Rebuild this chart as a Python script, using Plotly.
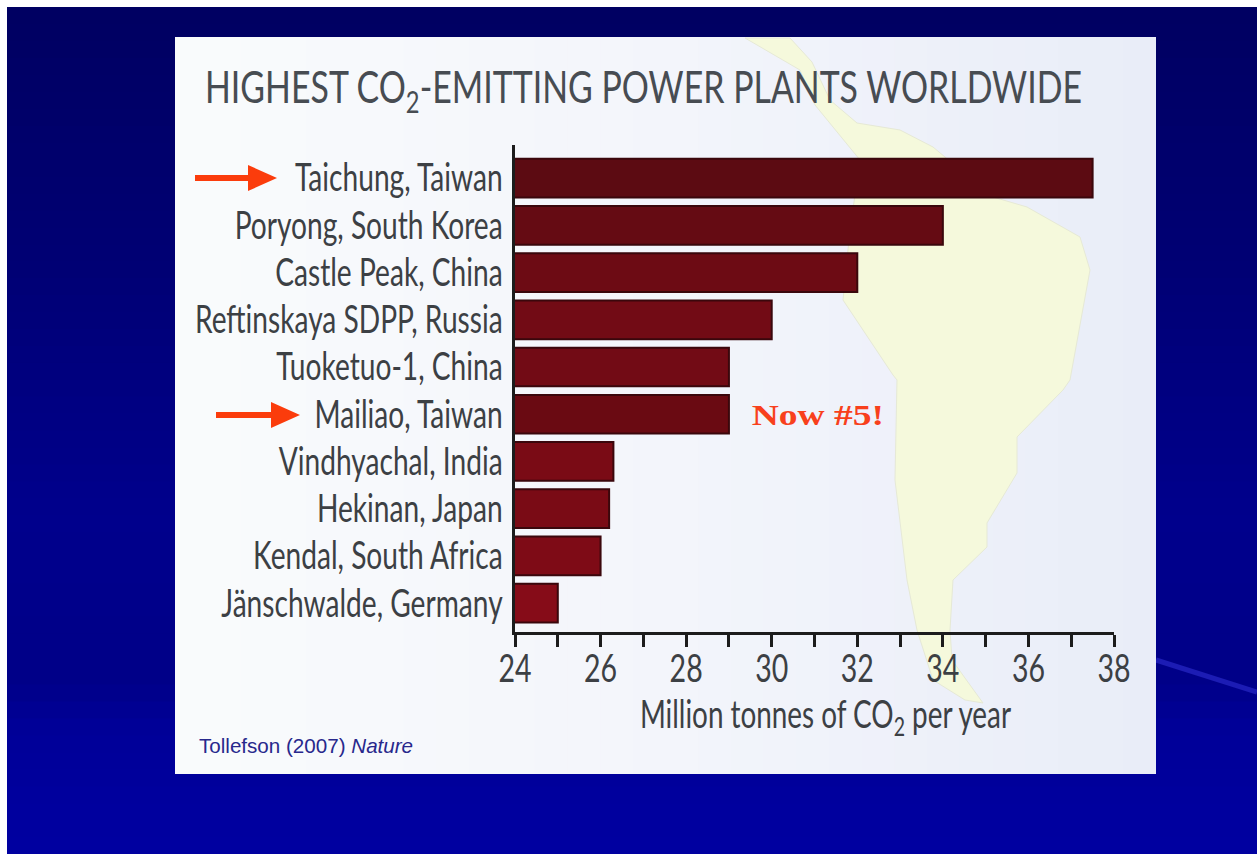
import plotly.graph_objects as go

plants = ["Taichung, Taiwan", "Poryong, South Korea", "Castle Peak, China",
          "Reftinskaya SDPP, Russia", "Tuoketuo-1, China", "Mailiao, Taiwan",
          "Vindhyachal, India", "Hekinan, Japan", "Kendal, South Africa",
          "Jänschwalde, Germany"]
emissions = [37.5, 34, 32, 30, 29, 29, 26.3, 26.2, 26, 25]
bar_colors = ["#5c0b12", "#650b13", "#6d0b14", "#720b15", "#720b15",
              "#6a0a12", "#7a0b15", "#7a0b15", "#7e0b16", "#860c18"]
x_ticks = [24, 26, 28, 30, 32, 34, 36, 38]

W, H = 1257, 854
def px(x): return x / W
def py(y): return 1 - y / H
def poly(points):
    return "M" + " L".join(f"{px(a):.5f},{py(b):.5f}" for a, b in points) + " Z"

shapes = []
def lerp(stops, t):
    for (t0, c0), (t1, c1) in zip(stops, stops[1:]):
        if t <= t1:
            f = (t - t0) / (t1 - t0)
            return tuple(round(a + (b - a) * f) for a, b in zip(c0, c1))
    return stops[-1][1]

# slide background: each band runs from its top edge to the bottom, so no seams
BG_L, BG_T = 7, 7
bg_stops = [(0, (0, 0, 0x62)), (0.3, (0, 0, 0x74)), (0.6, (0, 0, 0x8c)),
            (0.8, (0, 0, 0x88)), (0.86, (0, 0, 0x98)), (1, (0, 0, 0xa0))]
n = 50
for i in range(n):
    r, g, b = lerp(bg_stops, i / (n - 1))
    shapes.append(dict(type="rect", xref="paper", yref="paper", layer="below",
                       x0=px(BG_L), x1=1, y0=py(BG_T + (H - BG_T) * i / n), y1=0,
                       fillcolor=f"rgb({r},{g},{b})", line_width=0))
shapes.append(dict(type="line", xref="paper", yref="paper", layer="below",
                   x0=px(1156), y0=py(660), x1=px(1257), y1=py(692),
                   line=dict(color="#1c1cb4", width=5)))

# pale panel
PL, PR, PT, PB = 175, 1156, 37, 774
panel_stops = [(0, (0xf9, 0xfb, 0xfc)), (0.5, (0xf3, 0xf5, 0xfb)), (1, (0xe9, 0xed, 0xf8))]
m = 30
for i in range(m):
    r, g, b = lerp(panel_stops, i / (m - 1))
    shapes.append(dict(type="rect", xref="paper", yref="paper", layer="below",
                       x0=px(PL + (PR - PL) * i / m), x1=px(PR),
                       y0=py(PT), y1=py(PB), fillcolor=f"rgb({r},{g},{b})", line_width=0))

# backdrop map of South America
map_outline = [(745, 38), (790, 38), (812, 62), (830, 100), (857, 123), (900, 130), (933, 147),
               (993, 197), (1027, 207), (1080, 237), (1090, 270), (1070, 380), (1063, 390),
               (1017, 437), (1017, 473), (987, 523), (987, 547), (953, 580), (950, 630),
               (952, 660), (983, 703), (965, 700), (933, 680), (917, 630), (907, 580),
               (895, 480), (897, 380), (893, 375), (843, 300), (850, 230), (860, 160),
               (815, 105), (800, 70)]
shapes.append(dict(type="path", xref="paper", yref="paper", layer="below",
                   path=poly(map_outline), fillcolor="#f5f9dc",
                   line=dict(color="#e6e9d6", width=1)))

# arrows
for x0, x1, yc in [(195, 277, 178), (216, 300, 415)]:
    hb = x1 - 29
    shapes.append(dict(type="path", xref="paper", yref="paper", layer="above",
                       path=poly([(x0, yc - 3), (hb, yc - 3), (hb, yc - 13), (x1, yc),
                                  (hb, yc + 13), (hb, yc + 3), (x0, yc + 3)]),
                       fillcolor="#fb3c0c", line_width=0))

fig = go.Figure(go.Bar(
    y=plants, x=emissions, orientation="h", width=0.82,
    marker=dict(color=bar_colors, line=dict(color="#3a070c", width=2)),
))

annotations = [
    dict(text="Now #5!", x=29.8, y="Mailiao, Taiwan", xref="x", yref="y", xanchor="left",
         showarrow=False, font=dict(family="Liberation Serif", size=30, weight=700, color="#f8401c")),
    dict(text="Tollefson (2007) <i>Nature</i>", x=px(197), y=py(745), xref="paper", yref="paper",
         xanchor="left", yanchor="middle", showarrow=False,
         font=dict(family="Liberation Sans", size=20.6, color="#28288c")),
]

fig.update_layout(
    width=W, height=H, autosize=False,
    margin=dict(l=0, r=0, t=0, b=0, autoexpand=False),
    paper_bgcolor="#ffffff", plot_bgcolor="rgba(0,0,0,0)", showlegend=False,
    shapes=shapes, annotations=annotations,
    title=dict(text="HIGHEST CO<sub>2</sub>-EMITTING POWER PLANTS WORLDWIDE",
               x=px(205), xanchor="left", xref="paper", y=py(88), yanchor="middle",
               yref="paper", font=dict(family="Lato", size=44, color="#474c52")),
    font=dict(family="Lato", color="#3c4044"),
    xaxis=dict(domain=[px(515), px(1114)], range=[24, 38], tickmode="array", tickvals=x_ticks,
               ticks="outside", ticklen=12, tickwidth=3, tickcolor="#1c1c1c", automargin=False,
               minor=dict(dtick=1, ticks="outside", ticklen=12, tickwidth=3, tickcolor="#1c1c1c"),
               showline=True, linecolor="#1c1c1c", linewidth=3, showgrid=False, zeroline=False,
               tickfont=dict(size=38, color="#3c4044"), ticklabelstandoff=-11,
               title=dict(text="Million tonnes of CO<sub>2</sub> per year", standoff=10,
                          font=dict(size=38, color="#3c4044"))),
    yaxis=dict(domain=[py(632), py(145)], range=[9.61, -0.7], type="category",
               categoryorder="array", categoryarray=plants, automargin=False,
               ticks="outside", ticklen=2, tickcolor="rgba(0,0,0,0)",
               showline=True, linecolor="#1c1c1c", linewidth=2.5, showgrid=False,
               tickfont=dict(size=38, color="#3c4044")),
)

# The reference lettering is strongly condensed and no condensed face is installed,
# so the real text is narrowed in place once plotly has drawn it.
post = """
document.body.style.margin='0';
document.body.style.overflow='hidden';
function squeeze(sel, f, dx) {
  document.querySelectorAll(sel).forEach(function (t) {
    t.setAttribute('lengthAdjust', 'spacingAndGlyphs');
    t.setAttribute('textLength', t.getComputedTextLength() * f);
    if (dx) { t.setAttribute('x', parseFloat(t.getAttribute('x')) + dx); }
  });
}
squeeze('.ytick text', 0.74);
squeeze('.xtick text', 0.75);
squeeze('.xtitle', 0.733, 11);
squeeze('.gtitle', 0.77);
squeeze('text[data-unformatted^="Now"]', 1.25);
"""
fig.write_html("out.html", post_script=post, config=dict(displayModeBar=False))
